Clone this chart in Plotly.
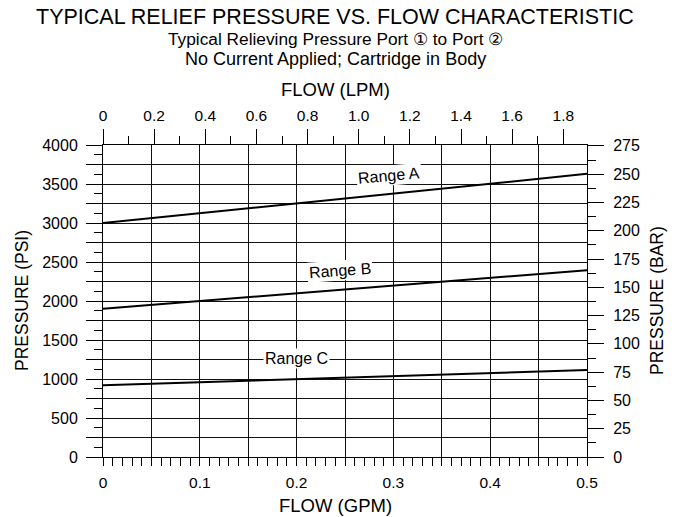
import plotly.graph_objects as go

# ---- data ----
flow_gpm = [0.0, 0.5]
range_a_psi = [3000, 3630]
range_b_psi = [1900, 2395]
range_c_psi = [920, 1115]
series_names = ["Range A", "Range B", "Range C"]

x_ticks_gpm = [0, 0.1, 0.2, 0.3, 0.4, 0.5]
x_ticks_lpm = [0, 0.2, 0.4, 0.6, 0.8, 1.0, 1.2, 1.4, 1.6, 1.8]
x_ticks_lpm_text = ["0", "0.2", "0.4", "0.6", "0.8", "1.0", "1.2", "1.4", "1.6", "1.8"]
y_ticks_bar = list(range(0, 276, 25))

GPM_TO_LPM = 3.78541
PSI_PER_BAR = 14.5038
PSI_MAX = 4000
GPM_MAX = 0.5

FONT = "Liberation Sans, Arial, Helvetica, sans-serif"

fig = go.Figure()
for name, ys in zip(series_names, [range_a_psi, range_b_psi, range_c_psi]):
    fig.add_trace(go.Scatter(x=flow_gpm, y=ys, mode="lines", name=name,
                             line=dict(color="black", width=2),
                             showlegend=False, hoverinfo="skip"))

# invisible trace so the secondary (LPM / BAR) axes are drawn
fig.add_trace(go.Scatter(x=[v * GPM_TO_LPM for v in flow_gpm],
                         y=[v / PSI_PER_BAR for v in range_a_psi],
                         xaxis="x2", yaxis="y2", mode="lines",
                         line=dict(color="rgba(0,0,0,0)"),
                         showlegend=False, hoverinfo="skip"))

# x (GPM) grid every 0.05, labels every 0.1
x_major = [round(i * 0.05, 2) for i in range(11)]
x_major_text = [(f"{v:g}") if abs(v * 10 - round(v * 10)) < 1e-9 else "" for v in x_major]
# y (PSI) grid every 250, labels every 500
y_major = list(range(0, PSI_MAX + 1, 250))
y_major_text = [str(v) if v % 500 == 0 else "" for v in y_major]

axis_common = dict(showline=True, linecolor="black", linewidth=1,
                   ticks="outside", tickcolor="black", zeroline=False,
                   automargin=False)

fig.update_layout(
    width=676, height=517,
    margin=dict(l=103, r=89, t=145, b=60),
    paper_bgcolor="white", plot_bgcolor="white",
    font=dict(family=FONT, color="black"),
    xaxis=dict(range=[0, GPM_MAX], tickmode="array", tickvals=x_major,
               ticktext=x_major_text, ticklen=8, tickwidth=1,
               tickfont=dict(size=15.5), ticklabelstandoff=3,
               showgrid=True, gridcolor="#111", gridwidth=1,
               minor=dict(tickmode="linear", tick0=0, dtick=0.01, ticklen=8,
                          tickcolor="black", ticks="outside", showgrid=False),
               **axis_common),
    yaxis=dict(range=[0, PSI_MAX], tickmode="array", tickvals=y_major,
               ticktext=y_major_text, ticklen=16, tickwidth=1,
               tickfont=dict(size=16), ticklabelstandoff=5,
               showgrid=True, gridcolor="#111", gridwidth=1,
               minor=dict(tickmode="linear", tick0=0, dtick=125, ticklen=8,
                          tickcolor="black", ticks="outside", showgrid=False),
               **axis_common),
    xaxis2=dict(range=[0, GPM_MAX * GPM_TO_LPM], overlaying="x", side="top",
                anchor="y", tickmode="array", tickvals=x_ticks_lpm,
                ticktext=x_ticks_lpm_text, ticklen=15, tickwidth=1,
                tickfont=dict(size=15.5), ticklabelstandoff=2, showgrid=False,
                minor=dict(tickmode="linear", tick0=0, dtick=0.1, ticklen=8,
                           tickcolor="black", ticks="outside", showgrid=False),
                **axis_common),
    yaxis2=dict(range=[0, PSI_MAX / PSI_PER_BAR], overlaying="y", side="right",
                anchor="x", tickmode="array", tickvals=y_ticks_bar,
                ticktext=[str(v) for v in y_ticks_bar], ticklen=16, tickwidth=1,
                tickfont=dict(size=16), ticklabelstandoff=6, showgrid=False,
                minor=dict(tickmode="linear", tick0=0, dtick=12.5, ticklen=8,
                           tickcolor="black", ticks="outside", showgrid=False),
                **axis_common),
)

H = 312.0  # plot height in px
def py(Y):
    return (457 - Y) / H

ann = []
ann.append(dict(text="TYPICAL RELIEF PRESSURE VS. FLOW CHARACTERISTIC",
                x=0.48, y=py(17), font=dict(size=21.5)))
ann.append(dict(text="Typical Relieving Pressure Port ① to Port ②",
                x=0.48, y=py(39), font=dict(size=17.3)))
ann.append(dict(text="No Current Applied; Cartridge in Body",
                x=0.48, y=py(59), font=dict(size=18)))
ann.append(dict(text="FLOW (LPM)", x=0.48, y=py(89), font=dict(size=18.5)))
ann.append(dict(text="FLOW (GPM)", x=0.48, y=py(506), font=dict(size=18.5)))
for a in ann:
    a.update(xref="paper", yref="paper", showarrow=False,
             xanchor="center", yanchor="middle")

ann.append(dict(text="PRESSURE (PSI)", xref="paper", yref="paper",
                x=(22 - 103) / 484.0, y=0.5, textangle=-90, showarrow=False,
                xanchor="center", yanchor="middle", font=dict(size=17.5)))
ann.append(dict(text="PRESSURE (BAR)", xref="paper", yref="paper",
                x=(657 - 103) / 484.0, y=0.5, textangle=-90, showarrow=False,
                xanchor="center", yanchor="middle", font=dict(size=17.5)))

label_pos = [(0.2955, 3606, -5), (0.2448, 2391, -4), (0.1994, 1258, 0)]
for name, (lx, ly, ang) in zip(series_names, label_pos):
    ann.append(dict(text=name, x=lx, y=ly, xref="x", yref="y", showarrow=False,
                    textangle=ang, bgcolor="white", borderpad=1,
                    font=dict(size=16), xanchor="center", yanchor="middle"))

fig.update_layout(annotations=ann)
fig.write_html("out.html", config={"displayModeBar": False},
               post_script="document.body.style.margin='0';")
